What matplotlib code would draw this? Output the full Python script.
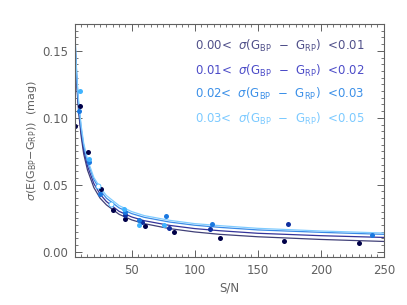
import matplotlib
matplotlib.use("Agg")
import matplotlib.pyplot as plt
from matplotlib.ticker import MultipleLocator

plt.rcParams['font.family'] = ['DejaVu Sans']

# measured points, one group per sigma(BP-RP) bin
sn0 = [5, 9.3, 15.3, 25.6, 35, 45, 60.3, 83.6, 119.8, 170.6, 230]
err0 = [0.094, 0.109, 0.0745, 0.047, 0.031, 0.0248, 0.019, 0.0145, 0.010, 0.008, 0.0065]
sn1 = [44.4, 58.2, 80, 112.5, 174.3]
err1 = [0.0278, 0.0223, 0.0178, 0.0173, 0.021]
sn2 = [8.5, 16, 24.6, 44.4, 55.8, 77, 114, 241]
err2 = [0.105, 0.067, 0.0435, 0.030, 0.0235, 0.0265, 0.021, 0.0125]
sn3 = [8.7, 16.5, 44, 55.8, 76]
err3 = [0.120, 0.069, 0.032, 0.020, 0.020]
sn3_open = [23, 34]
err3_open = [0.049, 0.0353]

# fitted curves
sn_fit = [5, 6, 7, 8, 10, 12, 15, 20, 25, 30, 40, 50, 60, 80, 100, 120, 150, 200, 250]
fit0 = [0.157, 0.134, 0.117, 0.104, 0.086, 0.073, 0.061, 0.048, 0.040, 0.035, 0.028, 0.0238, 0.021, 0.0173, 0.0148, 0.013, 0.0112, 0.0092, 0.0077]
fit1 = [0.160, 0.137, 0.120, 0.107, 0.089, 0.076, 0.064, 0.051, 0.043, 0.0375, 0.0302, 0.026, 0.0232, 0.0197, 0.0173, 0.0157, 0.0138, 0.0120, 0.0107]
fit2 = [0.163, 0.140, 0.123, 0.110, 0.092, 0.079, 0.067, 0.054, 0.046, 0.040, 0.0328, 0.0285, 0.0257, 0.0222, 0.0198, 0.0182, 0.0163, 0.0145, 0.013]
fit3 = [0.165, 0.142, 0.125, 0.112, 0.094, 0.081, 0.069, 0.0555, 0.048, 0.042, 0.0345, 0.030, 0.027, 0.0235, 0.021, 0.0195, 0.0175, 0.0155, 0.014]

labels = ['0.00', '0.01', '0.02', '0.03', '0.05']
pt_colors = ['#000048', '#1030a0', '#1a78e0', '#40b4ff']
line_colors = ['#404078', '#34349a', '#3a8ae6', '#80ccff']
txt_colors = ['#50508a', '#4c4cc8', '#3c90e8', '#7ccaff']

fig = plt.figure(figsize=(4.07, 3.05), dpi=100)
ax = fig.add_axes([0.184, 0.157, 0.759, 0.764])

fits = [fit0, fit1, fit2, fit3]
for i in range(4):
    ax.plot(sn_fit, fits[i], color=line_colors[i], lw=0.9)

pts = [(sn0, err0), (sn1, err1), (sn2, err2), (sn3, err3)]
for i in range(4):
    ax.plot(pts[i][0], pts[i][1], 'o', color=pt_colors[i], ms=3.6, mew=0)
ax.plot(sn3_open, err3_open, 'o', mfc='white', mec=pt_colors[3], ms=3.6, mew=0.6)

ax.set_xlim(5, 250)
ax.set_ylim(-0.004, 0.17)

ax.xaxis.set_minor_locator(MultipleLocator(5))
ax.yaxis.set_minor_locator(MultipleLocator(0.005))
ax.set_xticks([50, 100, 150, 200, 250])
ax.set_yticks([0.0, 0.05, 0.10, 0.15])
ax.set_yticklabels(['0.00', '0.05', '0.10', '0.15'])

gray = '#606060'
for s in ax.spines.values():
    s.set_color(gray)
    s.set_linewidth(0.8)
ax.tick_params(which='both', direction='in', top=True, right=True, colors=gray, labelsize=8.5, labelcolor=gray)
ax.tick_params(which='major', length=5, width=0.7, pad=5)
ax.tick_params(which='minor', length=2.5, width=0.6)

ax.set_xlabel('S/N', fontsize=8.5, color=gray, labelpad=3)
ax.set_ylabel(r'$\sigma$(E(G$_{\rm BP}$$-$G$_{\rm RP}$))  (mag)', fontsize=8, color=gray)
ax.yaxis.set_label_coords(-0.115, 0.5)

ypos = [0.907, 0.80, 0.70, 0.592]
for i in range(4):
    ax.text(0.388, ypos[i],
            labels[i] + r'<  $\sigma$(G$_{\rm BP}$  $-$  G$_{\rm RP}$)  <' + labels[i + 1],
            transform=ax.transAxes, ha='left', va='center', fontsize=8.5, color=txt_colors[i])

fig.savefig('out.png', dpi=100)
